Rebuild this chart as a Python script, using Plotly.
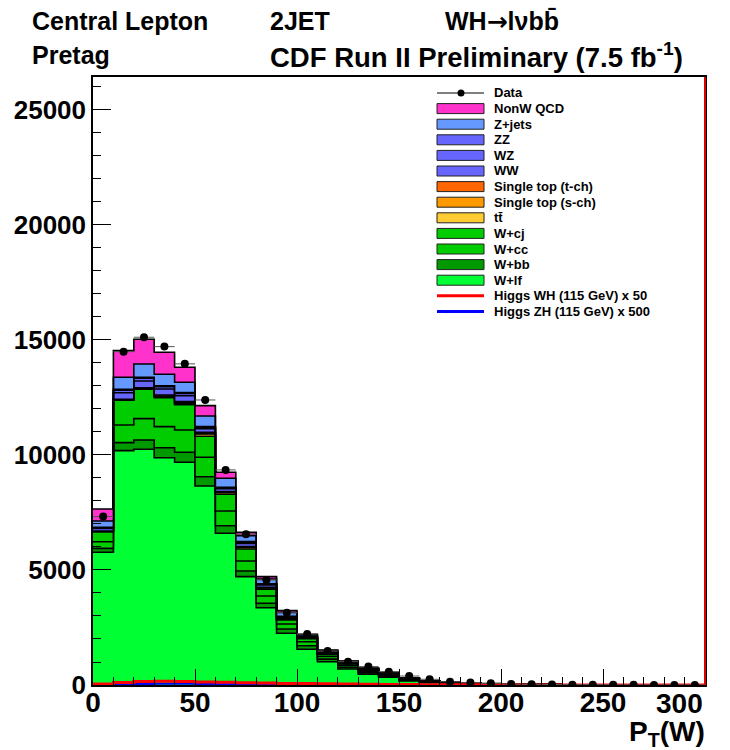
import numpy as np
import plotly.graph_objects as go

# ---- binning: P_T(W) in 10 GeV bins from 0 to 300 ----
bin_edges = list(range(0, 301, 10))

# ---- expected backgrounds per bin (events) ----
w_lf = [5770, 10190, 10250, 9880, 9680, 8650, 6595, 4710, 3360, 2250,
        1552, 1013, 696, 465, 340, 180, 110, 70, 45, 30,
        20, 14, 10, 7, 5, 4, 3, 2, 1.5, 1]
w_bb = [170, 345, 400, 435, 435, 405, 330, 248, 192, 185,
        157, 110, 75, 60, 45, 25, 15, 10, 7, 5,
        3, 2, 1.5, 1, 0.8, 0.6, 0.4, 0.3, 0.2, 0.15]
w_cc = [290, 765, 930, 915, 970, 845, 640, 433, 318, 217,
        174, 120, 80, 60, 45, 25, 15, 10, 7, 5,
        3, 2, 1.5, 1, 0.8, 0.6, 0.4, 0.3, 0.2, 0.15]
w_cj = [430, 1080, 1275, 1260, 1105, 915, 725, 520, 290, 180,
        130, 100, 70, 55, 40, 25, 15, 10, 7, 5,
        3, 2, 1.5, 1, 0.8, 0.6, 0.4, 0.3, 0.2, 0.15]
ttbar = [10, 15, 25, 55, 65, 95, 70, 65, 55, 30,
         20, 17, 14, 11, 8, 5, 4, 3, 2, 2,
         1, 1, 0.8, 0.5, 0.4, 0.3, 0.2, 0.2, 0.1, 0.1]
stop_s = [5, 8, 12, 20, 22, 30, 20, 20, 15, 8,
          6, 5, 4, 3, 3, 2, 1, 1, 1, 1,
          0.5, 0.3, 0.2, 0.2, 0.1, 0.1, 0.1, 0.05, 0.05, 0.03]
stop_t = [15, 17, 25, 40, 40, 45, 24, 25, 20, 12,
          9, 8, 7, 6, 4, 3, 2, 1, 1, 1,
          0.5, 0.4, 0.3, 0.2, 0.2, 0.1, 0.1, 0.05, 0.05, 0.03]
ww = [110, 285, 300, 265, 255, 160, 125, 136, 98, 65,
      45, 38, 28, 25, 18, 12, 7, 5, 4, 3,
      2, 1.5, 1, 0.8, 0.6, 0.4, 0.3, 0.2, 0.15, 0.1]
wz = [40, 105, 115, 100, 97, 60, 48, 52, 37, 25,
      18, 15, 12, 10, 8, 5, 3, 2, 2, 1,
      1, 0.6, 0.4, 0.3, 0.2, 0.2, 0.1, 0.1, 0.05, 0.04]
zz = [15, 45, 45, 40, 40, 25, 20, 22, 15, 10,
      7, 7, 5, 5, 4, 3, 2, 1, 1, 1,
      0.5, 0.3, 0.2, 0.1, 0.1, 0.1, 0.05, 0.05, 0.03, 0.02]
z_jets = [275, 525, 580, 500, 452, 466, 390, 255, 205, 170,
          60, 60, 35, 30, 22, 12, 5, 4, 3, 3,
          2, 1.5, 1, 0.7, 0.5, 0.4, 0.3, 0.2, 0.15, 0.1]
nonw_qcd = [520, 1155, 1075, 955, 652, 447, 261, 150, 105, 80,
            30, 30, 15, 10, 8, 3, 1, 2, 2, 1,
            1, 1, 0.5, 0.3, 0.3, 0.2, 0.1, 0.1, 0.05, 0.05]

# ---- signal templates (scaled) ----
higgs_wh_x50 = [40, 110, 150, 160, 150, 135, 120, 100, 85, 70,
                60, 50, 40, 32, 25, 20, 16, 12, 10, 8,
                6, 5, 4, 3, 3, 2, 2, 1, 1, 1]
higgs_zh_x500 = [10, 30, 45, 50, 50, 48, 42, 38, 33, 28,
                 24, 20, 17, 14, 11, 9, 7, 6, 5, 4,
                 3, 2, 2, 2, 1, 1, 1, 1, 0, 0]

# ---- observed data ----
data_counts = [7320, 14490, 15117, 14710, 13960, 12390, 9350, 6552, 4565, 3143,
               2217, 1478, 1013, 800, 578, 390, 248, 143, 110, 72,
               43, 30, 25, 15, 12, 8, 6, 5, 3, 3]

# x-axis labels (the last one is right-aligned to stay inside the frame)
x_tick_vals = [0, 50, 100, 150, 200, 250]
x_tick_text = ["0", "50", "100", "150", "200", "250"]
x_last_tick = 300

# stack order, bottom to top
stack = [
    ("W+lf", w_lf, "#00FF33"),
    ("W+bb", w_bb, "#009900"),
    ("W+cc", w_cc, "#00CC00"),
    ("W+cj", w_cj, "#00CC00"),
    ("tt\u0304", ttbar, "#FFCC33"),
    ("Single top (s-ch)", stop_s, "#FF9900"),
    ("Single top (t-ch)", stop_t, "#FF6600"),
    ("WW", ww, "#6666FF"),
    ("WZ", wz, "#6666FF"),
    ("ZZ", zz, "#6666FF"),
    ("Z+jets", z_jets, "#6699FF"),
    ("NonW QCD", nonw_qcd, "#FF33CC"),
]

edges = np.array(bin_edges, dtype=float)
centers = 0.5 * (edges[:-1] + edges[1:])


def step_y(vals):
    v = np.asarray(vals, dtype=float)
    return np.append(v, v[-1])


FONT = "Liberation Sans, Arial, Helvetica, sans-serif"
fig = go.Figure()

for name, vals, color in stack:
    fig.add_trace(go.Scatter(
        x=edges, y=step_y(vals), name=name, mode="lines",
        line=dict(shape="hv", color="black", width=1.6),
        fillcolor=color, stackgroup="bkg", showlegend=False,
    ))

fig.add_trace(go.Scatter(
    x=edges, y=step_y(higgs_zh_x500), mode="lines",
    line=dict(shape="hv", color="#0000FF", width=2), showlegend=False))
fig.add_trace(go.Scatter(
    x=edges, y=step_y(higgs_wh_x50), mode="lines",
    line=dict(shape="hv", color="#FF0000", width=3), showlegend=False))

fig.add_trace(go.Scatter(
    x=centers, y=data_counts, mode="markers",
    marker=dict(color="black", size=8),
    error_y=dict(type="sqrt", color="#333333", thickness=1, width=0),
    error_x=dict(type="constant", value=5, color="#555555", thickness=1, width=0),
    showlegend=False))

# ---- plot frame in pixel terms ----
L, R, T, B = 93, 705, 77, 685


def px(xp):
    return (xp - L) / (R - L)


def py(yp):
    return (B - yp) / (B - T)


shapes = []
annotations = []

# right edge of the frame
shapes.append(dict(type="line", xref="paper", yref="paper",
                   x0=px(705), x1=px(705), y0=0, y1=1,
                   line=dict(color="#DD0000", width=2)))

# ---- legend ----
legend_rows = [
    ("Data", "data", None),
    ("NonW QCD", "box", "#FF33CC"),
    ("Z+jets", "box", "#6699FF"),
    ("ZZ", "box", "#6666FF"),
    ("WZ", "box", "#6666FF"),
    ("WW", "box", "#6666FF"),
    ("Single top (t-ch)", "box", "#FF6600"),
    ("Single top (s-ch)", "box", "#FF9900"),
    ("tt\u0304", "box", "#FFCC33"),
    ("W+cj", "box", "#00CC00"),
    ("W+cc", "box", "#00CC00"),
    ("W+bb", "box", "#009900"),
    ("W+lf", "box", "#00FF33"),
    ("Higgs WH (115 GeV) x 50", "line", "#FF0000"),
    ("Higgs ZH (115 GeV) x 500", "line", "#0000FF"),
]
for i, (label, kind, color) in enumerate(legend_rows):
    yc = 93 + 15.6 * i
    if kind == "box":
        shapes.append(dict(type="rect", xref="paper", yref="paper",
                           x0=px(437), x1=px(484), y0=py(yc + 5), y1=py(yc - 5),
                           fillcolor=color, line=dict(color="#222222", width=1)))
    elif kind == "line":
        shapes.append(dict(type="line", xref="paper", yref="paper",
                           x0=px(437), x1=px(484), y0=py(yc), y1=py(yc),
                           line=dict(color=color, width=3)))
    else:
        shapes.append(dict(type="line", xref="paper", yref="paper",
                           x0=px(437), x1=px(484), y0=py(yc), y1=py(yc),
                           line=dict(color="black", width=1)))
        shapes.append(dict(type="circle", xref="paper", yref="paper",
                           x0=px(457.5), x1=px(464.5), y0=py(yc + 3.5), y1=py(yc - 3.5),
                           fillcolor="black", line=dict(color="black", width=0)))
    annotations.append(dict(xref="paper", yref="paper", x=px(492), y=py(yc),
                            xanchor="left", yanchor="middle", showarrow=False,
                            text=label,
                            font=dict(family=FONT, size=13, color="black", weight="bold")))

# ---- header texts ----
ARROW = '<span style="font-family:DejaVu Sans">\u2192</span>'
for text, xp, yp, size in [
    ("Central Lepton", 30, 21, 25),
    ("2JET", 268, 21, 25),
    ("WH" + ARROW + "l\u03bdbb\u0304", 443, 21, 25),
    ("Pretag", 30, 55, 25),
    ("CDF Run II Preliminary (7.5 fb<sup>-1</sup>)", 268, 55, 27.5),
]:
    annotations.append(dict(xref="paper", yref="paper", x=px(xp), y=py(yp),
                            xanchor="left", yanchor="middle", showarrow=False,
                            text=text,
                            font=dict(family=FONT, size=size, color="black", weight="bold")))

# last x label, kept inside the frame
annotations.append(dict(xref="x", yref="paper", x=x_last_tick, y=py(703),
                        xanchor="right", yanchor="middle", showarrow=False,
                        text=str(x_last_tick),
                        font=dict(family=FONT, size=28, color="black", weight="bold")))

# axis title
annotations.append(dict(xref="paper", yref="paper", x=px(707), y=py(733),
                        xanchor="right", yanchor="middle", showarrow=False,
                        text="P<sub>T</sub>(W)",
                        font=dict(family=FONT, size=28, color="black", weight="bold")))

fig.update_layout(
    width=730, height=750,
    margin=dict(l=L, r=730 - R, t=T, b=750 - B, autoexpand=False),
    paper_bgcolor="white", plot_bgcolor="white",
    showlegend=False,
    shapes=shapes, annotations=annotations,
    font=dict(family=FONT, color="black"),
)
fig.update_xaxes(
    range=[0, 300], tickmode="array", tickvals=x_tick_vals, ticktext=x_tick_text,
    ticks="inside", ticklen=16, tickwidth=1, tickcolor="black",
    minor=dict(dtick=10, tick0=0, ticks="inside", ticklen=8, tickcolor="black", tickwidth=1),
    showline=True, linecolor="black", linewidth=1.5, mirror=True,
    showgrid=False, zeroline=False, automargin=False, ticklabelstandoff=-8,
    tickfont=dict(family=FONT, size=28, color="black", weight="bold"),
)
fig.update_yaxes(
    range=[0, 26430], dtick=5000, tick0=0, tickformat="d",
    ticks="inside", ticklen=18, tickwidth=1, tickcolor="black",
    minor=dict(dtick=1000, ticks="inside", ticklen=8, tickcolor="black", tickwidth=1),
    showline=True, linecolor="black", linewidth=1.5, mirror=True,
    showgrid=False, zeroline=False, automargin=False,
    tickfont=dict(family=FONT, size=26, color="black", weight="bold"),
)

fig.write_html("out.html")
